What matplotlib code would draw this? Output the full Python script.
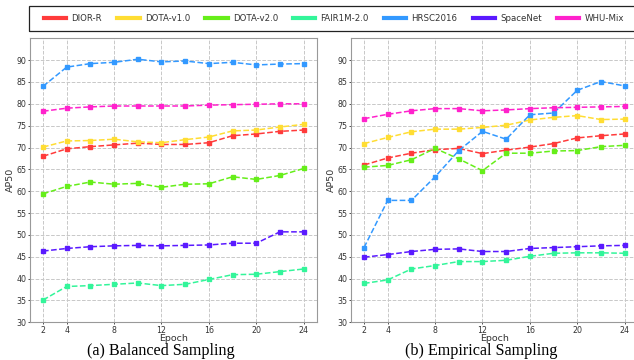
import matplotlib
matplotlib.use("Agg")
import matplotlib.pyplot as plt
from matplotlib.patches import Rectangle

epochs = [2, 4, 6, 8, 10, 12, 14, 16, 18, 20, 22, 24]
xticks = [2, 4, 8, 12, 16, 20, 24]
names = ["DIOR-R", "DOTA-v1.0", "DOTA-v2.0", "FAIR1M-2.0", "HRSC2016", "SpaceNet", "WHU-Mix"]
colors = ["#ff3b3b", "#ffdd33", "#66ee1a", "#33f59a", "#3399ff", "#5a1aff", "#ff22cc"]

# (a) balanced sampling
bal_dior = [68.0, 69.7, 70.2, 70.6, 71.0, 70.7, 70.7, 71.1, 72.7, 73.1, 73.7, 74.0]
bal_dota1 = [70.1, 71.5, 71.6, 71.9, 71.3, 71.1, 71.8, 72.4, 73.8, 74.0, 74.7, 75.3]
bal_dota2 = [59.4, 61.1, 62.1, 61.6, 61.8, 60.9, 61.6, 61.7, 63.3, 62.7, 63.6, 65.2]
bal_fair = [35.1, 38.2, 38.4, 38.7, 39.0, 38.4, 38.7, 39.8, 40.9, 41.0, 41.6, 42.2]
bal_hrsc = [84.0, 88.4, 89.2, 89.5, 90.2, 89.6, 89.8, 89.2, 89.5, 88.9, 89.1, 89.2]
bal_space = [46.3, 46.9, 47.3, 47.5, 47.6, 47.5, 47.6, 47.7, 48.1, 48.1, 50.7, 50.7]
bal_whu = [78.3, 79.0, 79.3, 79.5, 79.5, 79.5, 79.5, 79.7, 79.8, 79.9, 80.0, 80.0]

# (b) empirical sampling
emp_dior = [66.0, 67.6, 68.7, 69.5, 69.8, 68.6, 69.4, 70.1, 70.9, 72.2, 72.7, 73.1]
emp_dota1 = [70.9, 72.3, 73.6, 74.2, 74.2, 74.6, 75.1, 76.3, 76.9, 77.3, 76.4, 76.5]
emp_dota2 = [65.5, 65.9, 67.2, 69.8, 67.4, 64.7, 68.7, 68.7, 69.2, 69.3, 70.2, 70.5]
emp_fair = [38.9, 39.7, 42.2, 43.0, 43.9, 43.9, 44.2, 45.1, 45.8, 45.9, 45.9, 45.8]
emp_hrsc = [47.1, 57.9, 57.9, 63.3, 69.3, 73.7, 71.9, 77.5, 77.9, 83.1, 85.1, 84.1]
emp_space = [44.9, 45.5, 46.2, 46.7, 46.8, 46.2, 46.2, 46.9, 47.1, 47.3, 47.5, 47.6]
emp_whu = [76.6, 77.6, 78.4, 78.9, 78.9, 78.4, 78.6, 78.9, 79.1, 79.2, 79.3, 79.4]

balanced = [bal_dior, bal_dota1, bal_dota2, bal_fair, bal_hrsc, bal_space, bal_whu]
empirical = [emp_dior, emp_dota1, emp_dota2, emp_fair, emp_hrsc, emp_space, emp_whu]

W, H = 634, 360
fig = plt.figure(figsize=(W / 100, H / 100), dpi=100)
ax1 = fig.add_axes([0.0473, 0.1047, 0.4522, 0.789])
ax2 = fig.add_axes([0.5536, 0.1047, 0.4522, 0.789])

# captions sit a little left of the axes centre (centred on the subfigure)
for ax, series, caption, cx in [(ax1, balanced, "(a) Balanced Sampling", 160.5),
                                (ax2, empirical, "(b) Empirical Sampling", 481)]:
    for vals, c, n in zip(series, colors, names):
        ax.plot(epochs, vals, ls="--", lw=1.1, color=c, marker="s",
                markersize=3.2, label=n)
    ax.set_ylim(30, 95)
    ax.set_yticks(range(30, 95, 5))
    ax.set_xticks(xticks)
    ax.grid(True, ls="--", color="#c8c8c8", lw=0.7)
    ax.tick_params(labelsize=5.7, colors="#333333", length=1.5, width=0.6, pad=1)
    for s in ax.spines.values():
        s.set_color("#999999")
        s.set_linewidth(0.8)
    ax.set_xlabel("Epoch", fontsize=6.8, color="#333333", labelpad=-0.5)
    ax.set_ylabel("AP50", fontsize=6.8, color="#333333", labelpad=1)
    fig.text(cx / W, 5 / H, caption, ha="center", va="baseline",
             fontsize=11.6, family="Liberation Serif")

# legend frame runs past the right edge, as in the cropped original
fig.patches.append(Rectangle((29 / W, 1 - 31 / H), 620 / W, 25 / H, transform=fig.transFigure,
                             fill=False, ec="#222222", lw=0.9))
handles = [plt.Line2D([], [], color=c, lw=3) for c in colors]
leg = fig.legend(handles, names, loc="center left", bbox_to_anchor=(44 / W, 1 - 18.5 / H),
                 ncol=7, fontsize=6.2, frameon=False, handlelength=2.6,
                 handletextpad=0.6, columnspacing=1.75, borderpad=0, borderaxespad=0)
for t in leg.get_texts():
    t.set_color("#333333")

fig.savefig("out.png", dpi=100)
